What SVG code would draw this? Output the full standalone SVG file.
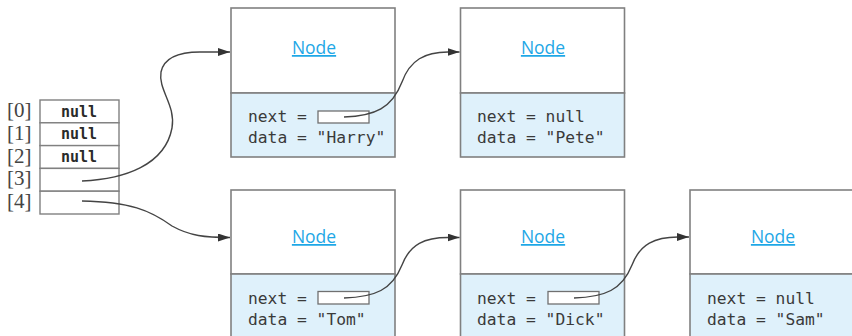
<svg xmlns="http://www.w3.org/2000/svg" width="852" height="336" viewBox="0 0 852 336">
  <style>
    .box { fill: #ffffff; stroke: #808080; stroke-width: 1.6; }
    .fields { fill: #dff1fb; stroke: #808080; stroke-width: 1.6; }
    .ptr { fill: #ffffff; stroke: #707070; stroke-width: 1.3; }
    .title { font-family: "Open Sans", "Noto Sans", sans-serif; font-size: 17.5px; fill: #1ea7e6; text-anchor: middle; text-decoration: underline; }
    .code { font-family: "DejaVu Sans Mono", "Liberation Mono", monospace; font-size: 16.3px; fill: #3a3a3a; }
    .nul { font-family: "DejaVu Sans Mono", "Liberation Mono", monospace; font-size: 15px; font-weight: bold; fill: #2a2a2a; text-anchor: middle; }
    .idx { font-family: "Liberation Serif", "Times New Roman", serif; font-size: 21px; fill: #444444; }
    .cell { fill: #ffffff; stroke: #808080; stroke-width: 1.4; }
    .link { fill: none; stroke: #444444; stroke-width: 1.4; marker-end: url(#arrow); }
  </style>
  <defs>
    <marker id="arrow" viewBox="0 0 12 8" refX="12" refY="4" markerWidth="12" markerHeight="8" markerUnits="userSpaceOnUse" orient="auto">
      <path d="M0,0 L12,4 L0,8 Z" fill="#333333"/>
    </marker>
  </defs>

  <rect width="852" height="336" fill="#ffffff"/>

  <!-- array of head references -->
  <g id="array">
    <rect class="cell" x="40" y="100" width="79" height="22.8"/>
    <rect class="cell" x="40" y="122.8" width="79" height="22.8"/>
    <rect class="cell" x="40" y="145.6" width="79" height="22.8"/>
    <rect class="cell" x="40" y="168.4" width="79" height="22.8"/>
    <rect class="cell" x="40" y="191.2" width="79" height="22.8"/>
    <text class="idx" x="7" y="117">[0]</text>
    <text class="idx" x="7" y="139.8">[1]</text>
    <text class="idx" x="7" y="162.6">[2]</text>
    <text class="idx" x="7" y="185.4">[3]</text>
    <text class="idx" x="7" y="208.2">[4]</text>
    <text class="nul" x="79" y="116.5">null</text>
    <text class="nul" x="79" y="139.3">null</text>
    <text class="nul" x="79" y="162.1">null</text>
  </g>

  <!-- list nodes -->
  <g id="node-harry">
    <rect class="box" x="231" y="8" width="164" height="85"/>
    <rect class="fields" x="231" y="93" width="164" height="64"/>
    <text class="title" x="314" y="54">Node</text>
    <text class="code" x="248" y="122">next = </text>
    <rect class="ptr" x="318" y="111" width="51" height="12"/>
    <text class="code" x="248" y="143">data = "Harry"</text>
  </g>

  <g id="node-pete">
    <rect class="box" x="460.5" y="8" width="164" height="85"/>
    <rect class="fields" x="460.5" y="93" width="164" height="64"/>
    <text class="title" x="543" y="54">Node</text>
    <text class="code" x="477" y="122">next = null</text>
    <text class="code" x="477" y="143">data = "Pete"</text>
  </g>

  <g id="node-tom">
    <rect class="box" x="231" y="190" width="164" height="84"/>
    <rect class="fields" x="231" y="274" width="164" height="70"/>
    <text class="title" x="314" y="243">Node</text>
    <text class="code" x="248" y="304">next = </text>
    <rect class="ptr" x="318" y="291.5" width="51" height="12.5"/>
    <text class="code" x="248" y="325">data = "Tom"</text>
  </g>

  <g id="node-dick">
    <rect class="box" x="460.5" y="190" width="164" height="84"/>
    <rect class="fields" x="460.5" y="274" width="164" height="70"/>
    <text class="title" x="543" y="243">Node</text>
    <text class="code" x="477" y="304">next = </text>
    <rect class="ptr" x="548" y="291.5" width="51" height="12.5"/>
    <text class="code" x="477" y="325">data = "Dick"</text>
  </g>

  <g id="node-sam">
    <rect class="box" x="690" y="190" width="170" height="84"/>
    <rect class="fields" x="690" y="274" width="170" height="70"/>
    <text class="title" x="773" y="243">Node</text>
    <text class="code" x="707" y="304">next = null</text>
    <text class="code" x="707" y="325">data = "Sam"</text>
  </g>

  <!-- references -->
  <g id="connectors">
    <path class="link" d="M82,181 C125,179 165,165 172,128 C176,105 158,90 161,72 C164,58 178,52 200,52 L230,52"/>
    <path class="link" d="M82,201 C130,202 150,210 172,226 C190,236 205,237.5 230,237.5"/>
    <path class="link" d="M344,117 C375,116 392,108 402,82 C410,60 425,52 448,52 L459.5,52"/>
    <path class="link" d="M344,298 C375,297 392,290 402,265 C410,244 425,237.5 448,237.5 L459.5,237.5"/>
    <path class="link" d="M574,298 C605,297 622,290 632,265 C640,244 655,237 678,237 L689,237"/>
  </g>
</svg>
